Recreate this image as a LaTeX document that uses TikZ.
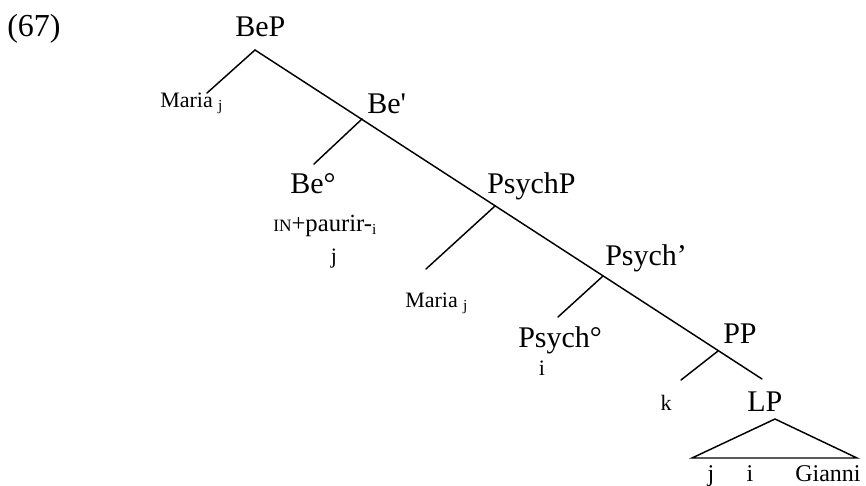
\documentclass[tikz,border=0pt]{standalone}
\usepackage{fontspec}
\setmainfont{Liberation Serif}[Ligatures=TeXOff]
\newcommand{\bigf}{\fontsize{22.5}{26}\selectfont}
\newcommand{\smf}{\fontsize{16.5}{20}\selectfont}
\newcommand{\paurf}{\fontsize{18.5}{22}\selectfont}
\newcommand{\midf}{\fontsize{18}{22}\selectfont}
\newcommand{\tinyf}{\fontsize{11.5}{13}\selectfont}
\newcommand{\subj}[1]{{\tinyf\raisebox{-2.5pt}{#1}}}
\begin{document}
\begin{tikzpicture}[x=0.75pt,y=-0.75pt,
  lab/.style={inner sep=0pt,anchor=base west,font=\bigf},
  slab/.style={inner sep=0pt,anchor=base west,font=\smf},
  mlab/.style={inner sep=0pt,anchor=base west,font=\midf},
  br/.style={line width=1.1pt,line cap=round}]
\useasboundingbox (0,0) rectangle (866,485);
% labels
\node[inner sep=0pt,anchor=base west,font=\fontsize{24}{28}\selectfont] (ex) at (7,37) {(67)};
\node[lab] (bep) at (235,37) {BeP};
\node[slab] (maria1) at (160,107) {Maria\hspace{4pt}\subj{j}};
\node[lab] (bebar) at (367,113) {Be'};
\node[lab] (bezero) at (290,193) {Be°};
\node[slab,font=\paurf] (paurir) at (273,231) {{\fontsize{13}{14}\selectfont IN}+paurir-\subj{i}};
\node[slab,anchor=base] (bej) at (334,263) {j};
\node[lab] (psychp) at (487,193) {PsychP};
\node[slab] (maria2) at (405,307) {Maria\hspace{4pt}\subj{j}};
\node[lab] (psychbar) at (605,265) {Psych’};
\node[lab] (psychzero) at (518,347) {Psych°};
\node[slab,anchor=base] (psi) at (542,375) {i};
\node[lab] (pp) at (723,343) {PP};
\node[slab,anchor=base] (k) at (666,410) {k};
\node[lab] (lp) at (747,411) {LP};
\node[mlab,anchor=base] (tj) at (711,481) {j};
\node[mlab,anchor=base] (ti) at (750,481) {i};
\node[mlab] (gianni) at (795,481) {Gianni};
% coordinates
\coordinate (top) at (255,50);
\coordinate (bot) at (762,379);
\coordinate (a1) at (362,119);
\coordinate (a2) at (495,206);
\coordinate (a3) at (603,276);
\coordinate (a4) at (718,351);
\coordinate (m1) at (207,93);
\coordinate (b0) at (314,164);
\coordinate (m2) at (426,269);
\coordinate (p0) at (558,317);
\coordinate (kk) at (681,380);
\coordinate (tapex) at (775,419);
\coordinate (tl) at (692,458);
\coordinate (tr) at (857,458);
% branches
\draw[br] (top) -- (bot);
\draw[br] (top) -- (m1);
\draw[br] (a1) -- (b0);
\draw[br] (a2) -- (m2);
\draw[br] (a3) -- (p0);
\draw[br] (a4) -- (kk);
\draw[br,line join=miter] (tl) -- (tapex) -- (tr) -- cycle;
\end{tikzpicture}
\end{document}
